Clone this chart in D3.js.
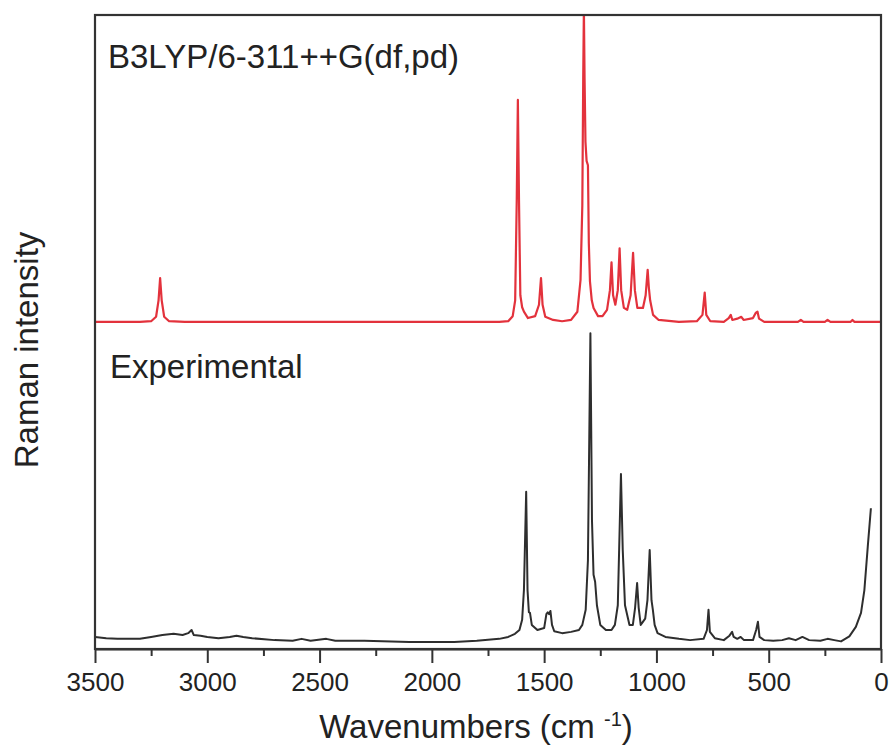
<!DOCTYPE html>
<html>
<head>
<meta charset="utf-8">
<script src="https://cdn.jsdelivr.net/npm/d3@7"></script>
<style>
  body { margin: 0; background: #fff; }
  svg { display: block; font-family: "Liberation Sans", Arial, sans-serif; }
</style>
</head>
<body>
<div id="chart"></div>
<script>
// traced spectra: [wavenumber (cm-1), intensity (a.u., 0-100 over the frame)]
var calcLabel = "B3LYP/6-311++G(df,pd)";
var expLabel = "Experimental";

var calcSpectrum = [
  [3500,51.6],[3300,51.6],[3250,51.7],[3228,52.4],[3217,55.0],[3210,58.5],[3203,55.0],[3192,52.4],
  [3170,51.7],[3100,51.6],[1700,51.6],[1660,51.7],[1640,52.5],[1629,55.0],[1622,70.8],[1617,86.6],
  [1612,70.8],[1606,55.8],[1598,53.9],[1590,53.2],[1572,52.2],[1540,52.5],[1523,54.3],[1514,58.5],
  [1507,54.3],[1495,52.4],[1460,51.9],[1420,51.7],[1380,51.9],[1352,53.2],[1338,58.2],[1330,70.0],
  [1326,90.0],[1323,101],[1320,90.0],[1316,80.0],[1311,77.0],[1305,76.3],[1301,64.0],[1296,58.0],
  [1288,55.0],[1280,53.8],[1260,52.5],[1240,52.5],[1220,53.5],[1207,56.6],[1200,61.0],[1193,55.8],
  [1183,54.3],[1172,56.6],[1164,63.2],[1157,56.6],[1145,53.8],[1130,53.5],[1115,55.8],[1104,62.5],
  [1096,56.6],[1085,53.8],[1060,53.8],[1048,55.8],[1039,59.8],[1034,57.1],[1028,55.0],[1015,52.7],
  [990,51.9],[900,51.6],[820,51.7],[795,52.7],[785,56.2],[778,52.7],[760,51.7],[700,51.6],
  [678,52.2],[669,52.7],[662,51.9],[640,52.1],[622,52.4],[612,51.9],[570,52.2],[558,53.0],
  [550,53.2],[543,52.1],[520,51.6],[370,51.6],[357,51.9],[345,51.6],[250,51.6],[238,51.9],
  [225,51.6],[135,51.6],[127,51.9],[118,51.6],[0,51.6]
];

var expSpectrum = [
  [3500,1.9],[3450,1.7],[3400,1.6],[3300,1.6],[3250,1.9],[3200,2.2],[3150,2.4],[3110,2.2],
  [3085,2.5],[3070,3.0],[3060,2.2],[3030,2.1],[3000,1.9],[2950,1.7],[2900,1.9],[2870,2.1],
  [2840,1.9],[2800,1.7],[2700,1.4],[2620,1.3],[2580,1.6],[2540,1.3],[2470,1.6],[2430,1.3],
  [2300,1.3],[2100,1.1],[1900,1.1],[1800,1.3],[1700,1.6],[1660,1.9],[1630,2.4],[1610,3.0],
  [1598,4.6],[1590,9.3],[1580,24.8],[1574,9.3],[1568,5.8],[1563,5.7],[1555,3.8],[1530,3.0],
  [1500,3.3],[1490,5.5],[1484,5.8],[1478,5.5],[1472,6.0],[1465,3.8],[1455,2.8],[1420,2.5],
  [1380,2.7],[1345,3.0],[1330,3.8],[1315,6.2],[1305,14.0],[1294,49.8],[1287,20.3],[1280,11.7],
  [1273,10.6],[1265,6.9],[1250,3.8],[1225,3.0],[1200,3.0],[1185,3.8],[1172,6.9],[1165,17.2],
  [1158,27.6],[1150,15.6],[1140,6.9],[1120,3.8],[1105,3.8],[1095,6.5],[1086,10.4],[1079,6.5],
  [1070,3.8],[1050,4.8],[1040,7.7],[1030,15.6],[1022,7.7],[1016,6.2],[1008,3.8],[995,2.5],
  [960,1.9],[900,1.6],[850,1.4],[790,1.6],[775,3.0],[768,6.2],[762,2.7],[740,1.7],
  [700,1.4],[675,2.1],[663,2.7],[656,1.9],[640,1.6],[625,1.9],[610,1.4],[570,1.4],
  [556,3.0],[548,4.3],[541,1.9],[520,1.4],[480,1.3],[440,1.4],[410,1.7],[380,1.4],
  [350,1.9],[320,1.4],[270,1.3],[238,1.6],[208,1.4],[178,1.2],[141,2.0],[112,3.5],
  [89,5.7],[74,9.3],[59,16.1],[45,22.2]
];

var majorTicks = [3500, 3000, 2500, 2000, 1500, 1000, 500, 0];
var minorTicks = [3250, 2750, 2250, 1750, 1250, 750, 250];

// layout
var W = 891, H = 747;
var margin = {top: 15, right: 10, bottom: 98, left: 95},
    width = W - margin.left - margin.right,
    height = H - margin.top - margin.bottom;

var svg = d3.select("#chart")
  .append("svg")
    .attr("width", W)
    .attr("height", H);

var g = svg.append("g")
    .attr("transform", "translate(" + margin.left + "," + margin.top + ")");

// reversed wavenumber axis
var x = d3.scaleLinear()
  .domain([3500, 0])
  .range([0, width]);

var y = d3.scaleLinear()
  .domain([0, 100])
  .range([height, 0]);

g.append("clipPath")
    .attr("id", "plotClip")
  .append("rect")
    .attr("width", width)
    .attr("height", height);

var line = d3.line()
  .x(function(d) { return x(d[0]); })
  .y(function(d) { return y(d[1]); });

var plot = g.append("g").attr("clip-path", "url(#plotClip)");

plot.append("path")
  .datum(expSpectrum)
  .attr("fill", "none")
  .attr("stroke", "#2e2e2e")
  .attr("stroke-width", 2)
  .attr("stroke-linejoin", "round")
  .attr("d", line);

plot.append("path")
  .datum(calcSpectrum)
  .attr("fill", "none")
  .attr("stroke", "#e3323c")
  .attr("stroke-width", 2.2)
  .attr("stroke-linejoin", "round")
  .attr("d", line);

// frame
g.append("rect")
  .attr("width", width)
  .attr("height", height)
  .attr("fill", "none")
  .attr("stroke", "#333")
  .attr("stroke-width", 2.2);

// bottom axis, major ticks with labels
var xAxis = g.append("g")
  .attr("transform", "translate(0," + height + ")")
  .call(d3.axisBottom(x).tickValues(majorTicks).tickSize(14).tickSizeOuter(0).tickFormat(d3.format("d")));

xAxis.select(".domain").attr("stroke", "#333").attr("stroke-width", 2.2);
xAxis.selectAll(".tick line").attr("stroke", "#333").attr("stroke-width", 2);
xAxis.selectAll(".tick text")
  .attr("y", 42)
  .attr("dy", null)
  .attr("fill", "#222")
  .style("font-size", "26px")
  .style("font-family", "'Liberation Sans', Arial, sans-serif");

// minor ticks
g.append("g")
  .attr("transform", "translate(0," + height + ")")
  .call(d3.axisBottom(x).tickValues(minorTicks).tickSize(7).tickFormat(""))
  .call(function(a) { a.select(".domain").remove(); })
  .selectAll(".tick line").attr("stroke", "#333").attr("stroke-width", 2);

// labels in the plot
svg.append("text")
  .attr("x", 108)
  .attr("y", 68)
  .attr("fill", "#222")
  .style("font-size", "33px")
  .text(calcLabel);

svg.append("text")
  .attr("x", 110)
  .attr("y", 378)
  .attr("fill", "#222")
  .style("font-size", "33px")
  .text(expLabel);

// axis titles
var xt = svg.append("text")
  .attr("x", 476)
  .attr("y", 738)
  .attr("text-anchor", "middle")
  .attr("fill", "#222")
  .style("font-size", "33px");
xt.append("tspan").text("Wavenumbers (cm ");
xt.append("tspan").attr("dy", -12).style("font-size", "20px").text("-1");
xt.append("tspan").attr("dy", 12).text(")");

svg.append("text")
  .attr("transform", "translate(38,350) rotate(-90)")
  .attr("text-anchor", "middle")
  .attr("fill", "#222")
  .style("font-size", "33px")
  .text("Raman intensity");
</script>
</body>
</html>
